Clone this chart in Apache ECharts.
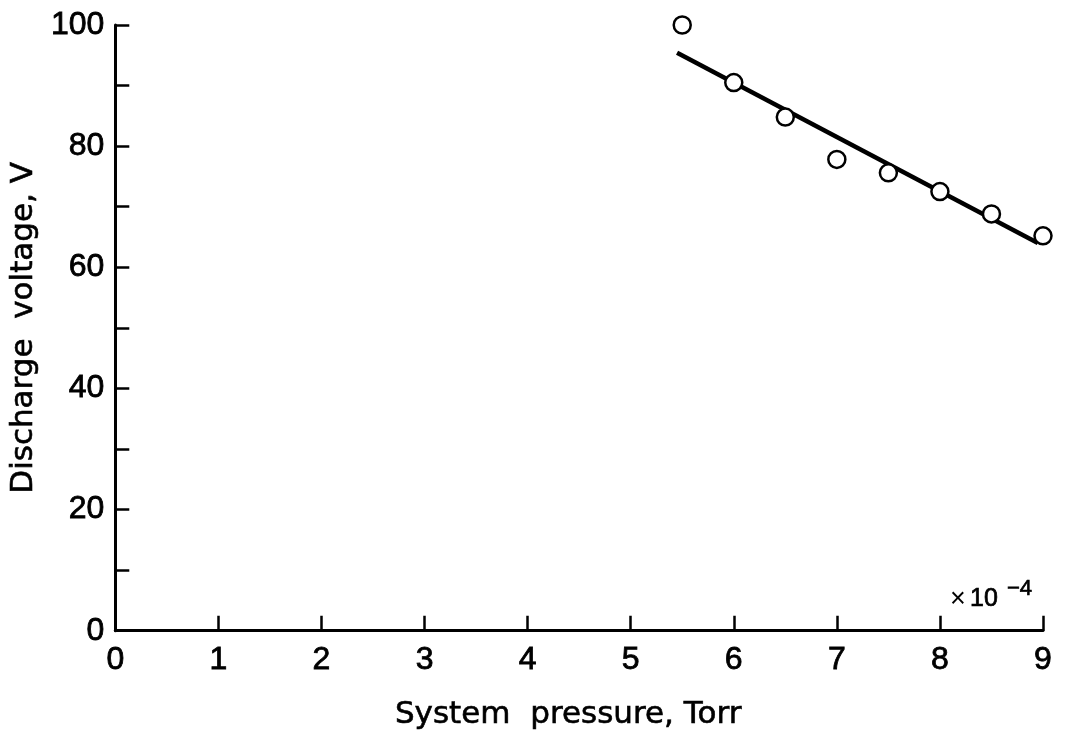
<!DOCTYPE html>
<html>
<head>
<meta charset="utf-8">
<script src="https://cdn.jsdelivr.net/npm/echarts@6/dist/echarts.min.js"></script>
<style>
html,body{margin:0;padding:0;background:#fff;}
#chart{width:1066px;height:736px;}
</style>
</head>
<body>
<div id="chart"></div>
<script>
// Measured points: system pressure (×10^-4 Torr) vs discharge voltage (V)
const pressure = [5.5, 6.0, 6.5, 7.0, 7.5, 8.0, 8.5, 9.0];
const voltage  = [100, 90.5, 84.8, 77.8, 75.6, 72.5, 68.8, 65.2];
// Fitted straight line end points
const fitPressure = [5.45, 8.95];
const fitVoltage  = [95.4, 64.0];
// Axis ticks
const xTicks = [0,1,2,3,4,5,6,7,8,9];
const yLabelTicks = [0,20,40,60,80,100];

const NUMFONT = 'Liberation Sans';
const NAMEFONT = 'DejaVu Sans';
const chart = echarts.init(document.getElementById('chart'), null, {renderer:'canvas'});
chart.setOption({
  backgroundColor:'#ffffff',
  animation:false,
  grid:{left:112, right:23, top:25, bottom:102, containLabel:false},
  xAxis:{
    type:'value', min:xTicks[0], max:xTicks[xTicks.length-1], interval:1,
    name:'System  pressure, Torr', nameLocation:'middle', nameGap:69,
    nameTextStyle:{fontFamily:NAMEFONT, fontSize:31, color:'#000', padding:[0,22,0,0],
      textBorderColor:'#000', textBorderWidth:0.6},
    axisLine:{lineStyle:{color:'#000', width:3}},
    axisTick:{inside:true, length:15, lineStyle:{color:'#000', width:2.5}},
    axisLabel:{fontFamily:NUMFONT, fontSize:32, color:'#000', margin:13,
      textBorderColor:'#000', textBorderWidth:0.8},
    splitLine:{show:false}
  },
  yAxis:{
    type:'value', min:0, max:100, interval:10,
    name:'Discharge  voltage, V', nameLocation:'middle', nameGap:62,
    nameTextStyle:{fontFamily:NAMEFONT, fontSize:31, color:'#000',
      textBorderColor:'#000', textBorderWidth:0.6},
    axisLine:{lineStyle:{color:'#000', width:3}},
    axisTick:{inside:true, length:14, lineStyle:{color:'#000', width:2.5}},
    axisLabel:{fontFamily:NUMFONT, fontSize:32, color:'#000', margin:11,
      textBorderColor:'#000', textBorderWidth:0.8,
      formatter:function(v){ return yLabelTicks.indexOf(v) >= 0 ? String(v) : ''; }},
    splitLine:{show:false}
  },
  graphic:[
    {type:'text', x:950, y:600, style:{text:'×', fontFamily:NUMFONT, fontSize:27, fill:'#000', textAlign:'left', textVerticalAlign:'middle'}},
    {type:'text', x:970, y:599, style:{text:'10', fontFamily:NUMFONT, fontSize:25, fill:'#000', textAlign:'left', textVerticalAlign:'middle', stroke:'#000', lineWidth:0.7}},
    {type:'text', x:1007, y:589, style:{text:'−4', fontFamily:NUMFONT, fontSize:22, fill:'#000', textAlign:'left', textVerticalAlign:'middle', stroke:'#000', lineWidth:0.7}}
  ],
  series:[
    {
      type:'line', data:fitPressure.map((p,i)=>[p, fitVoltage[i]]),
      showSymbol:false, symbol:'none',
      lineStyle:{color:'#000', width:4.5}, z:2, silent:true
    },
    {
      type:'scatter', data:pressure.map((p,i)=>[p, voltage[i]]),
      symbol:'circle', symbolSize:17,
      itemStyle:{color:'#fff', borderColor:'#000', borderWidth:2.5, opacity:1},
      z:3
    }
  ]
});
</script>
</body>
</html>
